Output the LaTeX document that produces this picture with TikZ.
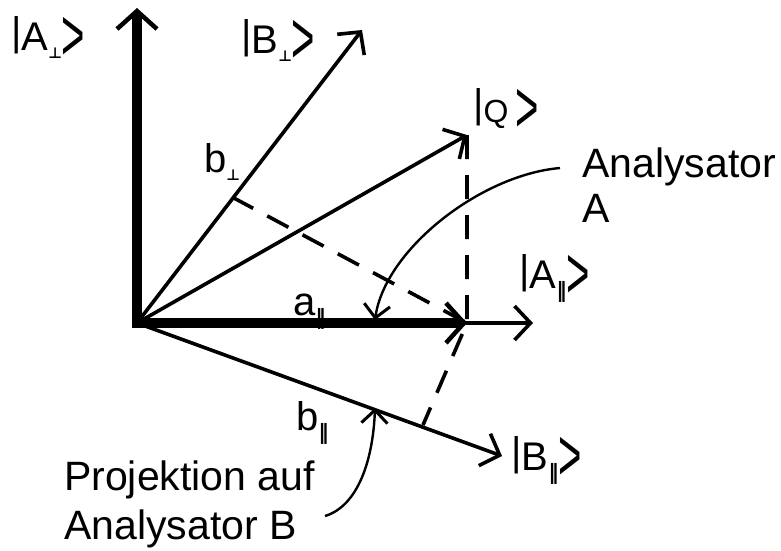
\documentclass[tikz,border=0pt]{standalone}
\usepackage{fontspec}
\setmainfont{Liberation Sans}
\newfontfamily\symfont{DejaVu Sans}
\usetikzlibrary{arrows.meta,positioning}
\newcommand{\keto}{\raisebox{5pt}{|}}
\newcommand{\ketc}{\raisebox{-0.25em}{\scalebox{1}[1.85]{>}}}
\newcommand{\subperp}{\raisebox{-8pt}{\fontsize{15}{15}\symfont\bfseries ⊥}}
\newcommand{\subpar}{\raisebox{-9pt}{\fontsize{21}{21}\symfont\bfseries ‖}}

\begin{document}
\begin{tikzpicture}[
  x=1pt, y=-1pt,
  lbl/.style={font=\fontsize{40}{44}\selectfont, inner sep=0pt, anchor=base west},
  txt/.style={font=\fontsize{41}{45}\selectfont, inner sep=0pt, align=left, anchor=base west},
  axis/.style={line width=10pt, line join=miter,
    {Straight Barb[length=18pt,width=40pt,line width=4.5pt]}-{Straight Barb[length=18pt,width=40pt,line width=4.5pt]}},
  vec/.style={line width=3.6pt, -{Straight Barb[length=16pt,width=34pt]}},
  proj/.style={line width=3.6pt, dash pattern=on 24pt off 16pt},
  hint/.style={line width=2.4pt, -{Straight Barb[length=13pt,width=26pt,line width=3pt]}}
]
\useasboundingbox (0,0) rectangle (781,550);

% basis A and B, state Q
\coordinate (O) at (137,323);
\coordinate (aperp) at (137,8);
\coordinate (apar) at (533,323);
\coordinate (bperp) at (362,30);
\coordinate (bpar) at (502,456);
\coordinate (q) at (467,135);
\coordinate (qa) at (467,323);
\coordinate (qb) at (232,197);
\coordinate (qbpar) at (423,425);

\draw[vec] (O) -- (apar);
\draw[axis] (aperp) -- (O) -- (qa);
\draw[vec] (O) -- (bperp);
\draw[vec] (O) -- (q);
\draw[vec] (O) -- (bpar);

% projections
\draw[proj] (q) -- (qa) -- (qbpar);
\draw[proj] (qb) -- (qa);

% labels
\node[lbl] (kaperp) at (11,50) {\keto A\subperp\ketc};
\node[lbl] (kbperp) at (241,53) {\keto B\subperp\ketc};
\node[lbl] (kq) at (473,122) {\keto{\fontsize{32}{32}\selectfont Q}\,\ketc};
\node[lbl] (kapar) at (519,288) {\keto A\subpar\ketc};
\node[lbl] (kbpar) at (511,470) {\keto B\subpar\ketc};
\node[lbl] (lbperp) at (204,172) {b\subperp};
\node[lbl] (lapar) at (293,315) {a\subpar};
\node[lbl] (lbpar) at (296,430) {b\subpar};

\node[txt] (ana) at (582,222) {Analysator\\A};
\node[txt, font=\fontsize{41}{49}\selectfont] (anb) at (64,539) {Projektion auf\\Analysator B};

% pointers
\coordinate (ca) at (560,168);
\coordinate (ta) at (375,320);
\coordinate (cb) at (325,516);
\coordinate (tb) at (375,408);
\draw[hint] (ca) .. controls (480,175) and (385,250) .. (ta);
\draw[hint] (cb) .. controls (358,506) and (373,460) .. (tb);
\end{tikzpicture}
\end{document}
